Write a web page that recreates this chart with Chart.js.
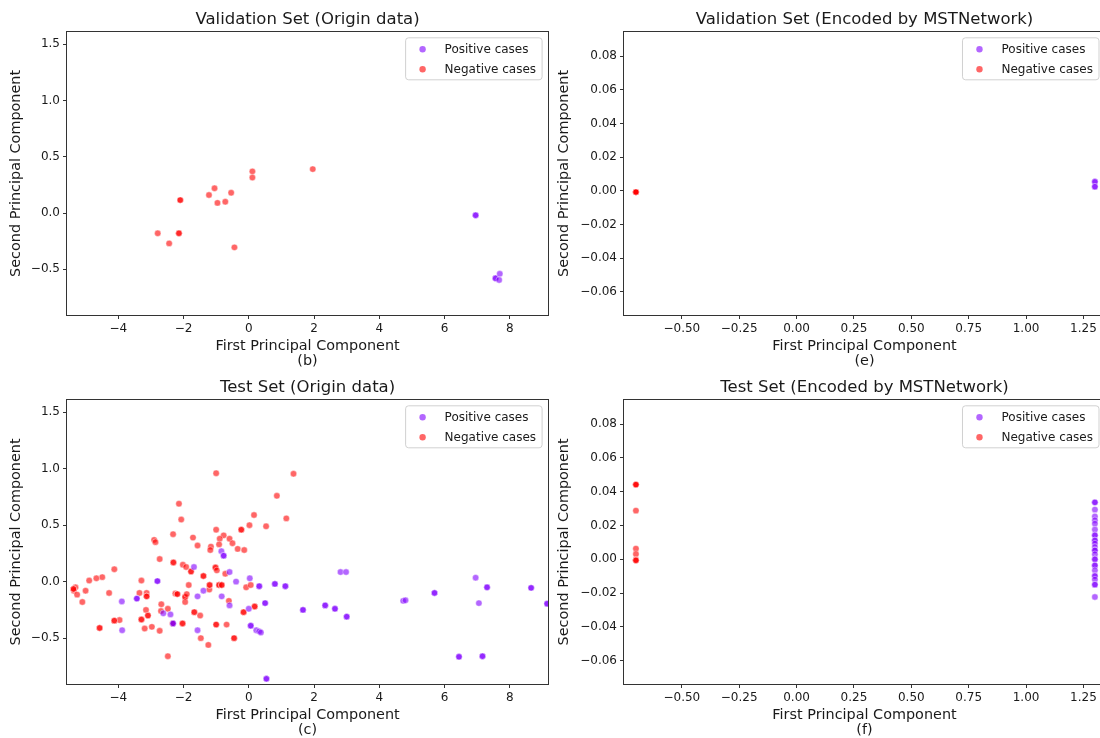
<!DOCTYPE html>
<html>
<head>
<meta charset="utf-8">
<title>PCA scatter</title>
<script src="https://cdn.jsdelivr.net/npm/chart.js@4.4.1/dist/chart.umd.min.js"></script>
<style>
  html, body { margin: 0; padding: 0; background: #fff; }
  body { width: 1100px; height: 738px; position: relative; overflow: hidden; }
  .panel { position: absolute; }
</style>
</head>
<body>
<div class="panel" style="left:0;top:0"><canvas id="valOrigin" width="552" height="369"></canvas></div>
<div class="panel" style="left:550px;top:0"><canvas id="valEncoded" width="560" height="369"></canvas></div>
<div class="panel" style="left:0;top:368px"><canvas id="testOrigin" width="552" height="370"></canvas></div>
<div class="panel" style="left:550px;top:368px"><canvas id="testEncoded" width="560" height="370"></canvas></div>
<script>
// tick labels
const originXTicks = [-4, -2, 0, 2, 4, 6, 8];
const originYTicks = [-0.5, 0, 0.5, 1.0, 1.5];
const encodedXTicks = [-0.5, -0.25, 0, 0.25, 0.5, 0.75, 1.0, 1.25];
const encodedYTicks = [-0.06, -0.04, -0.02, 0, 0.02, 0.04, 0.06, 0.08];

// validation set, origin data (repeated values = overlapping points)
const valPosX = [6.95, 6.95, 7.56, 7.56, 7.69, 7.67];
const valPosY = [-0.02, -0.02, -0.58, -0.58, -0.54, -0.595];
const valNegX = [-2.79, -2.44, -2.10, -2.10, -2.14, -2.14, -1.22, -1.05, -0.96, -0.72, -0.54, -0.44, 0.11, 0.11, 1.96];
const valNegY = [-0.18, -0.27, 0.115, 0.115, -0.18, -0.18, 0.16, 0.22, 0.09, 0.10, 0.18, -0.305, 0.37, 0.315, 0.39];

// validation set, encoded
const valEncPosX = [1.30, 1.30, 1.30, 1.30];
const valEncPosY = [0.0053, 0.0053, 0.0024, 0.0024];
const valEncNegX = [-0.70, -0.70, -0.70, -0.70, -0.70];
const valEncNegY = [-0.0008, -0.0008, -0.0008, -0.0008, -0.0008];

// test set, origin data
const testPosX = [
  -0.84, -0.77, -0.77, -1.68, -0.59, -2.80, -2.80, -0.39, 0.03, -1.39,
  -1.57, -0.83, 0.32, 0.32, 0.80, 0.80, 1.12, 1.12, -3.89, -3.43,
  -3.43, 0.50, 0.50, -0.59, 0.00, 1.66, 1.66, 2.34, 2.34, 2.64,
  2.64, 3.00, 3.00, -2.62, -2.40, -2.32, -2.32, 0.06, 0.06, 0.23,
  0.32, 0.37, -3.88, -1.57, 0.54, 0.54, 2.81, 2.98, 4.73, 4.80,
  5.69, 5.69, 6.44, 6.44, 7.16, 7.16, 6.95, 7.30, 7.30, 7.05,
  8.65, 8.65, 9.14, 9.14
];
const testPosY = [
  0.27, 0.23, 0.23, 0.13, 0.085, 0.005, 0.005, 0.00, 0.03, -0.08,
  -0.13, -0.13, -0.04, -0.04, -0.02, -0.02, -0.04, -0.04, -0.175, -0.15,
  -0.15, -0.19, -0.19, -0.21, -0.24, -0.25, -0.25, -0.21, -0.21, -0.24,
  -0.24, -0.31, -0.31, -0.28, -0.29, -0.37, -0.37, -0.39, -0.39, -0.43,
  -0.44, -0.45, -0.43, -0.43, -0.86, -0.86, 0.085, 0.085, -0.17, -0.165,
  -0.10, -0.10, -0.665, -0.665, -0.66, -0.66, 0.035, -0.05, -0.05, -0.19,
  -0.055, -0.055, -0.195, -0.195
];
const testNegX = [
  -1.00, 1.37, 0.86, -2.14, 0.16, 1.15, -2.07, 0.02, 0.53, -2.32,
  -1.00, -0.23, -0.23, -0.77, -1.71, -0.89, -0.59, -2.90, -2.86, -1.16,
  -0.91, -0.50, -1.57, -1.18, -0.34, -0.14, -2.73, -2.31, -2.31, -2.02,
  -1.92, -1.77, -1.77, -1.02, -1.02, -0.98, -0.72, -4.12, -1.39, -1.39,
  -1.84, -3.29, -4.49, -4.67, -4.89, -5.31, -5.36, -5.37, -5.37, -5.26,
  -5.00, -5.10, -4.28, -3.35, -3.13, -3.13, -3.13, -2.25, -2.19, -2.19,
  -1.95, -1.95, -1.95, -1.90, -1.21, -1.20, -1.20, -0.91, -0.91, -0.83,
  -0.83, -0.08, 0.06, -0.61, -2.68, -2.69, -2.48, -3.15, -3.09, -3.09,
  -1.67, -1.67, -1.49, -0.16, -0.16, 0.18, 0.18, -3.29, -3.29, -3.96,
  -4.12, -4.12, -4.57, -4.57, -3.19, -2.97, -2.73, -2.33, -2.33, -2.03,
  -2.03, -1.47, -1.24, -1.00, -1.00, -0.68, -0.45, -0.45, -2.48
];
const testNegY = [
  0.96, 0.955, 0.76, 0.69, 0.59, 0.56, 0.55, 0.50, 0.49, 0.42,
  0.46, 0.46, 0.46, 0.41, 0.39, 0.38, 0.38, 0.37, 0.35, 0.31,
  0.33, 0.34, 0.32, 0.28, 0.29, 0.28, 0.20, 0.17, 0.17, 0.15,
  0.13, 0.09, 0.09, 0.125, 0.125, 0.10, 0.07, 0.11, 0.05, 0.05,
  -0.03, 0.01, 0.04, 0.03, 0.01, -0.05, -0.08, -0.065, -0.065, -0.115,
  -0.08, -0.18, -0.10, -0.10, -0.10, -0.13, -0.13, -0.105, -0.11, -0.11,
  -0.135, -0.135, -0.18, -0.11, -0.07, -0.03, -0.03, -0.03, -0.03, -0.03,
  -0.03, -0.05, -0.03, -0.17, -0.20, -0.26, -0.24, -0.25, -0.30, -0.30,
  -0.27, -0.27, -0.30, -0.27, -0.27, -0.22, -0.22, -0.335, -0.335, -0.34,
  -0.345, -0.345, -0.41, -0.41, -0.415, -0.40, -0.435, -0.37, -0.37, -0.37,
  -0.37, -0.50, -0.56, -0.38, -0.38, -0.38, -0.50, -0.50, -0.66
];

// test set, encoded
const testEncPosX = Array(27).fill(1.30);
const testEncPosY = [
  0.0337, 0.0337, 0.0294, 0.0254, 0.0231, 0.0211, 0.0176, 0.0142, 0.0142, 0.0112,
  0.0112, 0.0093, 0.0073, 0.0053, 0.0053, 0.0030, 0.0, 0.0, -0.0036, -0.0036,
  -0.0065, -0.0099, -0.0099, -0.0120, -0.0150, -0.0150, -0.0223
];
const testEncNegX = [-0.70, -0.70, -0.70, -0.70, -0.70, -0.70, -0.70, -0.70, -0.70];
const testEncNegY = [0.0442, 0.0442, 0.0442, 0.0288, 0.0063, 0.0031, -0.0006, -0.0006, -0.0006];

const FONT = '"DejaVu Sans", sans-serif';
const INK = '#1a1a1a';
const POS_COLOR = 'rgba(128, 0, 255, 0.6)';
const NEG_COLOR = 'rgba(255, 0, 0, 0.6)';

Chart.defaults.font.family = FONT;
Chart.defaults.color = INK;

function toPoints(xs, ys) {
  return xs.map((x, i) => ({ x: x, y: ys[i] }));
}

function fmt(v, digits) {
  return v.toFixed(digits).replace('-', '\u2212');
}

// axes frame + matplotlib-like legend inside the plot
const frameAndLegend = {
  id: 'frameAndLegend',
  afterDatasetsDraw(chart) {
    const { ctx, chartArea: a } = chart;
    ctx.save();
    ctx.strokeStyle = '#333';
    ctx.lineWidth = 1;
    ctx.strokeRect(Math.round(a.left) - 0.5, Math.round(a.top) - 0.5,
      Math.round(a.right - a.left) + 1, Math.round(a.bottom - a.top) + 1);

    ctx.font = '12px ' + FONT;
    const sets = chart.data.datasets;
    const textW = Math.max(...sets.map(d => ctx.measureText(d.label).width));
    const w = 39 + textW + 6;
    const h = 42;
    const x = a.right - 6 - w;
    const y = a.top + 6;
    ctx.beginPath();
    ctx.roundRect(x, y, w, h, 3);
    ctx.fillStyle = 'rgba(255,255,255,0.8)';
    ctx.fill();
    ctx.strokeStyle = 'rgba(204,204,204,0.9)';
    ctx.stroke();
    sets.forEach((d, i) => {
      const cy = y + 11.5 + i * 20;
      ctx.beginPath();
      ctx.arc(x + 17, cy, 3.2, 0, Math.PI * 2);
      ctx.fillStyle = d.backgroundColor;
      ctx.fill();
      ctx.fillStyle = INK;
      ctx.textBaseline = 'middle';
      ctx.textAlign = 'left';
      ctx.fillText(d.label, x + 39, cy + 0.5);
    });
    ctx.restore();
  }
};

function axis(min, max, ticks, digits, title, size, titlePad) {
  return {
    type: 'linear',
    min: min,
    max: max,
    afterBuildTicks: s => { s.ticks = ticks.map(v => ({ value: v })); },
    afterFit: s => { if (s.isHorizontal()) s.height = size; else s.width = size; },
    grid: { display: true, drawOnChartArea: false, drawTicks: true, tickLength: 4, tickColor: '#333', tickWidth: 1 },
    border: { display: false },
    ticks: {
      color: INK,
      font: { family: FONT, size: 12 },
      padding: 3,
      maxRotation: 0,
      autoSkip: false,
      callback: v => fmt(v, digits)
    },
    title: {
      display: true,
      text: title,
      color: INK,
      font: { family: FONT, size: 14.4, lineHeight: 1.07 },
      padding: titlePad
    }
  };
}

function scatter(id, title, tag, pos, neg, encoded) {
  const xAxis = encoded
    ? axis(-0.752, 1.344, encodedXTicks, 2, ['First Principal Component', tag], 54, { top: 0, bottom: 0 })
    : axis(-5.57, 9.17, originXTicks, 0, ['First Principal Component', tag], 54, { top: 0, bottom: 0 });
  const yAxis = encoded
    ? axis(-0.0738, 0.0944, encodedYTicks, 2, 'Second Principal Component', 74, { top: 7, bottom: 0 })
    : axis(-0.906, 1.61, originYTicks, 1, 'Second Principal Component', 67, { top: 9, bottom: 0 });

  const pointStyle = {
    borderColor: 'rgba(255,255,255,0.6)',
    borderWidth: 0.7,
    pointRadius: 3.2,
    pointHoverRadius: 3.2
  };

  return new Chart(document.getElementById(id), {
    type: 'scatter',
    data: {
      datasets: [
        Object.assign({ label: 'Positive cases', data: toPoints(pos[0], pos[1]), backgroundColor: POS_COLOR }, pointStyle),
        Object.assign({ label: 'Negative cases', data: toPoints(neg[0], neg[1]), backgroundColor: NEG_COLOR }, pointStyle)
      ]
    },
    options: {
      responsive: false,
      animation: false,
      events: [],
      layout: { padding: { left: 0, top: 0, bottom: 0, right: encoded ? 5 : 3 } },
      scales: { x: xAxis, y: yAxis },
      plugins: {
        legend: { display: false },
        tooltip: { enabled: false },
        title: {
          display: true,
          fullSize: false,
          text: title,
          color: INK,
          font: { family: FONT, size: 16.5, weight: 'normal' },
          padding: { top: 10, bottom: 2 }
        }
      }
    },
    plugins: [frameAndLegend]
  });
}

scatter('valOrigin', 'Validation Set (Origin data)', '(b)', [valPosX, valPosY], [valNegX, valNegY], false);
scatter('valEncoded', 'Validation Set (Encoded by MSTNetwork)', '(e)', [valEncPosX, valEncPosY], [valEncNegX, valEncNegY], true);
scatter('testOrigin', 'Test Set (Origin data)', '(c)', [testPosX, testPosY], [testNegX, testNegY], false);
scatter('testEncoded', 'Test Set (Encoded by MSTNetwork)', '(f)', [testEncPosX, testEncPosY], [testEncNegX, testEncNegY], true);
</script>
</body>
</html>
